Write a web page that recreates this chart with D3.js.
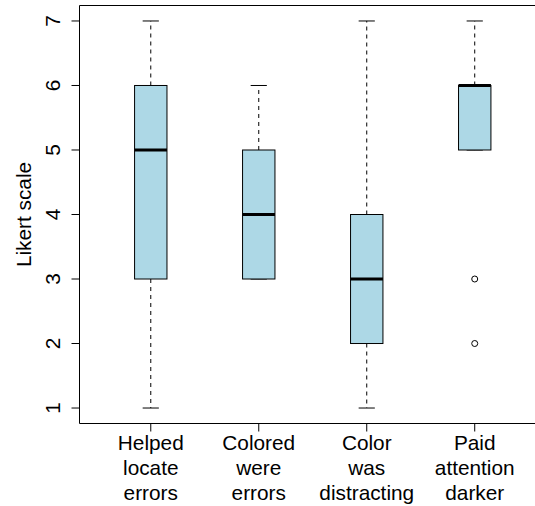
<!DOCTYPE html>
<html>
<head>
<meta charset="utf-8">
<script src="https://cdn.jsdelivr.net/npm/d3@7"></script>
<style>
  html, body { margin: 0; padding: 0; background: #fff; overflow: hidden; }
  svg { display: block; }
  text { font-family: "Liberation Sans", Arial, Helvetica, sans-serif; fill: #000; }
</style>
</head>
<body>
<svg id="chart" width="535" height="506"></svg>
<script>
// Survey questions (one entry per box, split into label lines)
const categories = [
  ["Helped", "locate", "errors"],
  ["Colored", "were", "errors"],
  ["Color", "was", "distracting"],
  ["Paid", "attention", "darker"]
];
// Five-number summaries on the 1–7 Likert scale
const lowerWhisker = [1, 3, 1, 5];
const lowerQuartile = [3, 3, 2, 5];
const medians = [5, 4, 3, 6];
const upperQuartile = [6, 5, 4, 6];
const upperWhisker = [7, 6, 7, 7];
const outliers = [[], [], [], [3, 2]];
const yTicks = [1, 2, 3, 4, 5, 6, 7];

const svg = d3.select("#chart");
const fontSize = 20.8;

// Plot region, extended 4% beyond the data range on both axes
const x = d3.scaleLinear().domain([0.34, 4.66]).range([79.5, 546]);
const y = d3.scaleLinear().domain([0.76, 7.24]).range([423.5, 5.5]);

const boxHalf = 16.2;
const capHalf = 8.1;

const g = svg.append("g");

const boxes = categories.map((c, i) => ({
  pos: i + 1,
  lo: lowerWhisker[i],
  q1: lowerQuartile[i],
  med: medians[i],
  q3: upperQuartile[i],
  hi: upperWhisker[i],
  out: outliers[i]
}));

const bg = g.selectAll("g.box").data(boxes).join("g").attr("class", "box");

// Dashed whiskers
bg.append("line")
  .attr("x1", d => x(d.pos)).attr("x2", d => x(d.pos))
  .attr("y1", d => y(d.q3)).attr("y2", d => y(d.hi))
  .attr("stroke", "#000").attr("stroke-width", 1).attr("stroke-dasharray", "4,4");
bg.append("line")
  .attr("x1", d => x(d.pos)).attr("x2", d => x(d.pos))
  .attr("y1", d => y(d.q1)).attr("y2", d => y(d.lo))
  .attr("stroke", "#000").attr("stroke-width", 1).attr("stroke-dasharray", "4,4");

// Whisker caps
bg.append("line")
  .attr("x1", d => x(d.pos) - capHalf).attr("x2", d => x(d.pos) + capHalf)
  .attr("y1", d => y(d.hi)).attr("y2", d => y(d.hi))
  .attr("stroke", "#000").attr("stroke-width", 1);
bg.append("line")
  .attr("x1", d => x(d.pos) - capHalf).attr("x2", d => x(d.pos) + capHalf)
  .attr("y1", d => y(d.lo)).attr("y2", d => y(d.lo))
  .attr("stroke", "#000").attr("stroke-width", 1);

// Boxes
bg.append("rect")
  .attr("x", d => x(d.pos) - boxHalf)
  .attr("width", boxHalf * 2)
  .attr("y", d => y(d.q3))
  .attr("height", d => y(d.q1) - y(d.q3))
  .attr("fill", "#add8e6")
  .attr("stroke", "#000").attr("stroke-width", 1);

// Medians
bg.append("line")
  .attr("x1", d => x(d.pos) - boxHalf).attr("x2", d => x(d.pos) + boxHalf)
  .attr("y1", d => y(d.med)).attr("y2", d => y(d.med))
  .attr("stroke", "#000").attr("stroke-width", 3);

// Outliers
bg.selectAll("circle").data(d => d.out.map(v => ({ pos: d.pos, v })))
  .join("circle")
  .attr("cx", d => x(d.pos)).attr("cy", d => y(d.v))
  .attr("r", 3).attr("fill", "none").attr("stroke", "#000").attr("stroke-width", 1);

// Plot frame: top, left and bottom sides (right side lies past the page edge)
const [x0, x1] = x.range();
const [yb, yt] = y.range();
svg.append("path")
  .attr("d", `M${x1},${yt}H${x0}V${yb}H${x1}`)
  .attr("fill", "none").attr("stroke", "#000").attr("stroke-width", 1);

// Y axis ticks and rotated labels
const yAxis = svg.append("g").attr("transform", `translate(${x0},0)`);
yAxis.selectAll("line.tick").data(yTicks).join("line")
  .attr("class", "tick")
  .attr("x1", -8).attr("x2", 0)
  .attr("y1", d => y(d)).attr("y2", d => y(d))
  .attr("stroke", "#000").attr("stroke-width", 1);
yAxis.selectAll("text").data(yTicks).join("text")
  .attr("transform", d => `translate(-19.5,${y(d)}) rotate(-90)`)
  .attr("text-anchor", "middle")
  .attr("font-size", fontSize)
  .text(d => d);

// X axis ticks and multi-line category labels
const xAxis = svg.append("g").attr("transform", `translate(0,${yb})`);
xAxis.selectAll("line.tick").data(boxes).join("line")
  .attr("class", "tick")
  .attr("x1", d => x(d.pos)).attr("x2", d => x(d.pos))
  .attr("y1", 0).attr("y2", 8)
  .attr("stroke", "#000").attr("stroke-width", 1);
const labels = xAxis.selectAll("text").data(categories).join("text")
  .attr("text-anchor", "middle")
  .attr("font-size", fontSize);
labels.selectAll("tspan").data((d, i) => d.map((t, j) => ({ t, j, pos: i + 1 })))
  .join("tspan")
  .attr("x", d => x(d.pos))
  .attr("y", d => 26.5 + d.j * 25)
  .text(d => d.t);

// Y axis title
svg.append("text")
  .attr("transform", `translate(31,${(yb + yt) / 2}) rotate(-90)`)
  .attr("text-anchor", "middle")
  .attr("font-size", fontSize)
  .text("Likert scale");
</script>
</body>
</html>
